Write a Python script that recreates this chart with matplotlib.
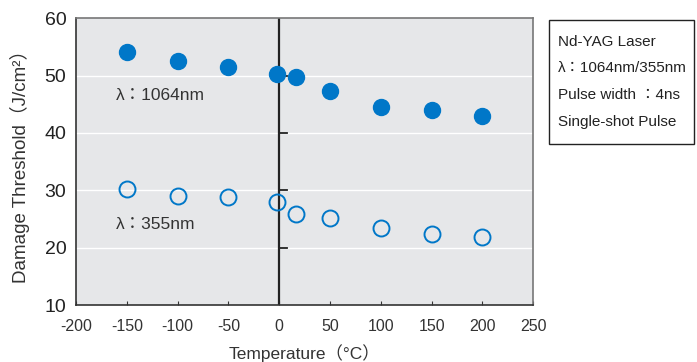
import matplotlib
matplotlib.use("Agg")
import matplotlib.pyplot as plt
from matplotlib.patches import Rectangle

plt.rcParams['font.family'] = ['Liberation Sans', 'Noto Sans CJK JP', 'DejaVu Sans']
plt.rcParams['axes.unicode_minus'] = False

temps = [-150, -100, -50, -2, 17, 50, 100, 150, 200]
th_1064 = [54.1, 52.5, 51.5, 50.2, 49.7, 47.3, 44.6, 44.0, 42.9]
th_355 = [30.2, 29.1, 28.9, 27.9, 25.9, 25.2, 23.5, 22.4, 21.9]

xticks = [-200, -150, -100, -50, 0, 50, 100, 150, 200, 250]
yticks = [10, 20, 30, 40, 50, 60]
info_lines = ["Nd-YAG Laser", "λ：1064nm/355nm", "Pulse width ：4ns", "Single-shot Pulse"]

blue = '#0077c8'
fig = plt.figure(figsize=(6.97, 3.62), dpi=100)
ax = fig.add_axes([0.109, 0.157, 0.656, 0.793])
ax.set_facecolor('#e6e7e9')

for y in yticks[1:-1]:
    ax.axhline(y, color='white', lw=1.0, zorder=1)

ax.axvline(0, color='#222222', lw=1.6, zorder=2)
for y in yticks[1:-1]:
    ax.plot([0, 8], [y, y], color='#222222', lw=1.3, zorder=2)

ax.plot(temps, th_1064, 'o', ms=11.5, color=blue, mec=blue, zorder=3, clip_on=False)
ax.plot(temps, th_355, 'o', ms=11.5, mfc='none', mec=blue, mew=1.4, zorder=3, clip_on=False)

ax.text(-161, 46.6, "λ：1064nm", fontsize=12.5, color='#333333', va='center', ha='left')
ax.text(-161, 24.1, "λ：355nm", fontsize=12.5, color='#333333', va='center', ha='left')

ax.set_xlim(-200, 250)
ax.set_ylim(10, 60)
ax.set_xticks(xticks)
ax.set_yticks(yticks)
ax.tick_params(axis='x', direction='in', length=3, width=0.8, labelsize=11.5, colors='#333333', pad=10)
ax.tick_params(axis='y', length=0, labelsize=14, colors='#222222', pad=7)

for s in ['top', 'right']:
    ax.spines[s].set_color('#777777')
    ax.spines[s].set_linewidth(1.2)
for s in ['left', 'bottom']:
    ax.spines[s].set_color('#333333')
    ax.spines[s].set_linewidth(1.2)

ax.set_xlabel("Temperature（°C）", fontsize=12.5, color='#333333', labelpad=7)
ax.set_ylabel("Damage Threshold（J/cm²）", fontsize=13.5, color='#333333', labelpad=10)

fig.patches.append(Rectangle((0.788, 0.602), 0.207, 0.343, transform=fig.transFigure,
                             fc='white', ec='#222222', lw=1.0))
line_y = [0.884, 0.812, 0.738, 0.663]
for txt, yy in zip(info_lines, line_y):
    fig.text(0.800, yy, txt, fontsize=11, color='#222222', va='center', ha='left')

fig.savefig('out.png', dpi=100)
